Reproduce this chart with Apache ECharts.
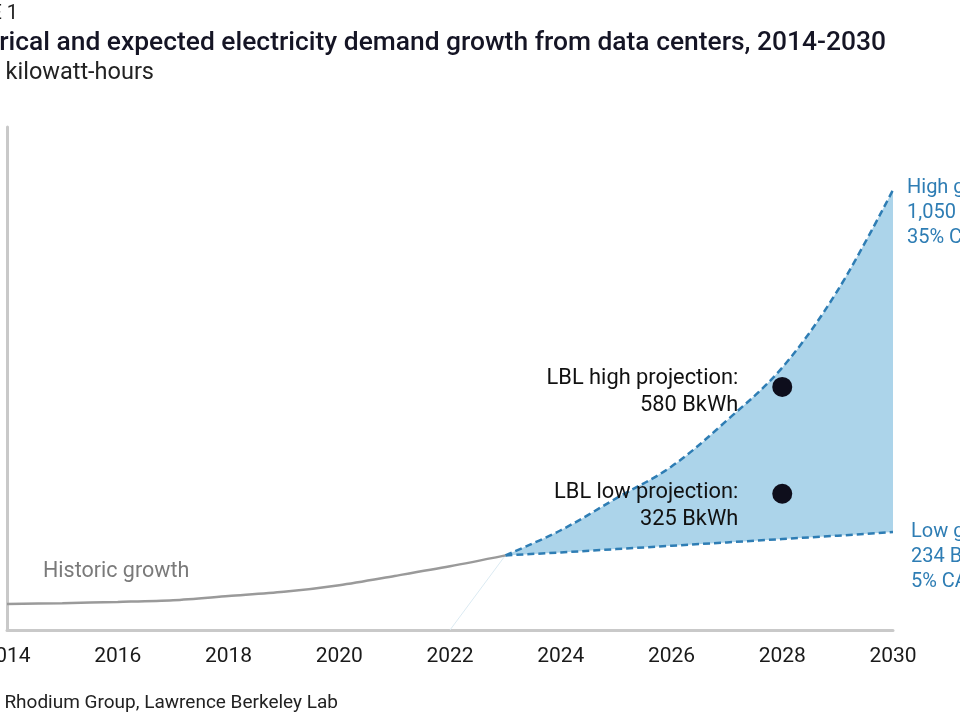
<!DOCTYPE html>
<html>
<head>
<meta charset="utf-8">
<script src="https://cdn.jsdelivr.net/npm/echarts@6/dist/echarts.min.js"></script>
<style>
  html, body { margin: 0; padding: 0; background: #fff; }
  #main { width: 960px; height: 720px; }
</style>
</head>
<body>
<div id="main"></div>
<script>
// values in billion kWh
var years = ['2014', '2015', '2016', '2017', '2018', '2019', '2020', '2021', '2022',
             '2023', '2024', '2025', '2026', '2027', '2028', '2029', '2030'];

var histYears = ['2014', '2015', '2016', '2017', '2018', '2019', '2020', '2021', '2022', '2023'];
var histValues = [62, 64, 67, 71, 81, 91, 107, 129, 152, 178];

var projYears = ['2023', '2024', '2025', '2026', '2027', '2028', '2029', '2030'];
var lowValues = [178, 185, 193, 201, 209, 217, 225, 234];
var highValues = [178, 238, 314, 390, 500, 626, 810, 1050];

var lblYears = ['2028', '2028'];
var lblValues = [580, 325];
var lblNames = ['LBL high projection:', 'LBL low projection:'];

var font = 'Roboto, "Noto Sans", sans-serif';
var blue = '#2e7db4';

// spread a partial series over the full year axis
function onAxis(xs, ys) {
    return years.map(function (y) {
        var i = xs.indexOf(y);
        return i >= 0 ? ys[i] : '-';
    });
}

var mychart = echarts.init(document.getElementById('main'));

var option = {
    animation: false,
    grid: { left: 7, right: 67, top: 127, bottom: 90, containLabel: false, outerBoundsMode: 'none' },
    xAxis: {
        type: 'category',
        data: years,
        boundaryGap: false,
        axisLine: { lineStyle: { color: '#c9c9c9', width: 3 } },
        axisTick: { show: false },
        splitLine: { show: false },
        axisLabel: {
            interval: 1,
            color: '#1a1a1a',
            fontFamily: font,
            fontSize: 21,
            margin: 16
        }
    },
    yAxis: {
        type: 'value',
        min: 0,
        max: 1200,
        axisLine: { show: true, lineStyle: { color: '#c9c9c9', width: 3 } },
        axisTick: { show: false },
        axisLabel: { show: false },
        splitLine: { show: false }
    },
    series: [
        {
            name: 'faint',
            type: 'line',
            data: onAxis(['2022', '2023'], [0, histValues[histValues.length - 1]]),
            symbol: 'none',
            lineStyle: { color: '#dbeaf2', width: 1 },
            silent: true
        },
        {
            name: 'low',
            type: 'line',
            stack: 'band',
            data: onAxis(projYears, lowValues),
            symbol: 'none',
            lineStyle: { color: blue, width: 2.5, type: [7, 4] },
            z: 3
        },
        {
            name: 'high',
            type: 'line',
            stack: 'band',
            smooth: 0.35,
            data: onAxis(projYears, highValues.map(function (v, i) { return v - lowValues[i]; })),
            symbol: 'none',
            lineStyle: { color: blue, width: 2.5, type: [7, 4] },
            areaStyle: { color: '#acd4ea', opacity: 1 },
            z: 2
        },
        {
            name: 'historic',
            type: 'line',
            smooth: 0.3,
            data: onAxis(histYears, histValues),
            symbol: 'none',
            lineStyle: { color: '#9a9a9a', width: 2.5 },
            z: 4
        },
        {
            name: 'LBL',
            type: 'scatter',
            symbolSize: 20,
            itemStyle: { color: '#0e0e1c', opacity: 1 },
            data: lblYears.map(function (x, i) {
                return {
                    value: [x, lblValues[i]],
                    label: { offset: [0, i === 0 ? 5 : 12] }
                };
            }),
            label: {
                show: true,
                position: 'left',
                distance: 34,
                align: 'right',
                color: '#111',
                fontFamily: font,
                fontSize: 21.8,
                lineHeight: 27,
                formatter: function (p) {
                    return lblNames[p.dataIndex] + '\n' + lblValues[p.dataIndex] + ' BkWh';
                }
            },
            z: 5
        }
    ],
    graphic: [
        { type: 'text', x: 18, y: 14, style: { text: 'FIGURE 1', align: 'right', verticalAlign: 'middle', font: '20px ' + font, fill: '#222' } },
        { type: 'text', x: 886, y: 43, style: { text: 'Historical and expected electricity demand growth from data centers, 2014-2030', align: 'right', verticalAlign: 'middle', font: '500 26.4px ' + font, fill: '#151525' } },
        { type: 'text', x: 154, y: 73, style: { text: 'Billion kilowatt-hours', align: 'right', verticalAlign: 'middle', font: '23.5px ' + font, fill: '#222' } },
        { type: 'text', x: 338, y: 703, style: { text: 'Source: Rhodium Group, Lawrence Berkeley Lab', align: 'right', verticalAlign: 'middle', font: '19px ' + font, fill: '#222' } },
        { type: 'text', x: 43, y: 572, style: { text: 'Historic growth', align: 'left', verticalAlign: 'middle', font: '21.5px ' + font, fill: '#7a7a7a' } },
        { type: 'text', x: 907, y: 213, style: { text: 'High growth:\n1,050 BkWh\n35% CAGR', align: 'left', verticalAlign: 'middle', font: '20px ' + font, lineHeight: 25, fill: blue } },
        { type: 'text', x: 911, y: 557, style: { text: 'Low growth:\n234 BkWh\n5% CAGR', align: 'left', verticalAlign: 'middle', font: '20px ' + font, lineHeight: 25, fill: blue } }
    ]
};

mychart.setOption(option);
</script>
</body>
</html>
